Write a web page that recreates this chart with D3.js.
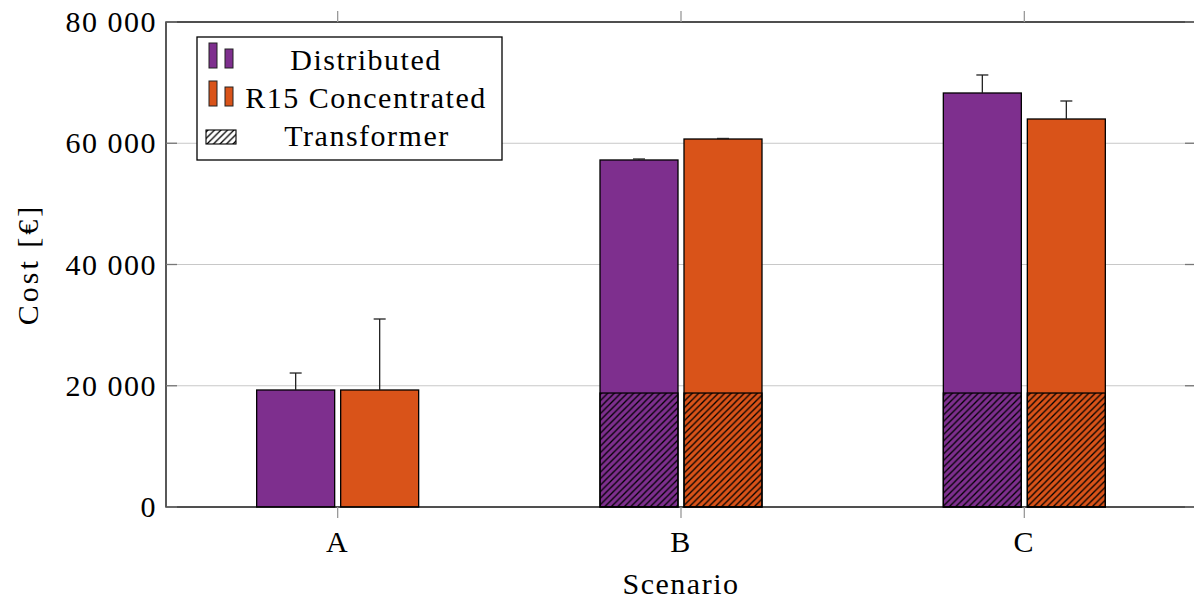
<!DOCTYPE html>
<html>
<head>
<meta charset="utf-8">
<script src="https://cdn.jsdelivr.net/npm/d3@7/dist/d3.min.js"></script>
<style>
  html, body { margin: 0; padding: 0; background: #fff; }
  svg { display: block; }
  text { font-family: "Liberation Serif", "DejaVu Serif", serif; fill: #000; letter-spacing: 1.5px; }
</style>
</head>
<body>
<svg id="chart" width="1194" height="601"></svg>
<script>
// dados (custo em euros)
const scenarios = ["A", "B", "C"];
const distributed = [19300, 57240, 68290];
const distributedHigh = [22100, 57400, 71260];
const concentrated = [19300, 60700, 64000];
const concentratedHigh = [31010, 60790, 66970];
const transformer = [0, 18800, 18800];
const yTicks = [0, 20000, 40000, 60000, 80000];

const series = [
  { name: "Distributed", color: "#7E2F8E", values: distributed, high: distributedHigh, offset: -1 },
  { name: "R15 Concentrated", color: "#D95319", values: concentrated, high: concentratedHigh, offset: 1 },
];

const plot = { left: 166, right: 1196, top: 22, bottom: 507 };
const BAR_W = 78, BAR_GAP = 3;

const svg = d3.select("#chart");

// padrão "north east lines" do pgfplots
const defs = svg.append("defs");
const pat = defs.append("pattern")
  .attr("id", "hatch")
  .attr("patternUnits", "userSpaceOnUse")
  .attr("width", 6.5)
  .attr("height", 6.5);
pat.append("path")
  .attr("d", "M-1,1 L1,-1 M0,6.5 L6.5,0 M5.5,7.5 L7.5,5.5")
  .attr("stroke", "#000")
  .attr("stroke-width", 1.3);

const x = d3.scaleLinear().domain([-0.5, 2.5]).range([plot.left, plot.right]);
const y = d3.scaleLinear().domain([0, 80000]).range([plot.bottom, plot.top]);

const fmt = d3.formatLocale({ decimal: ".", thousands: " ", grouping: [3], currency: ["", ""] }).format(",d");

// grade horizontal
svg.append("g")
  .selectAll("line")
  .data(yTicks)
  .join("line")
  .attr("x1", plot.left)
  .attr("x2", plot.right)
  .attr("y1", (d) => y(d))
  .attr("y2", (d) => y(d))
  .attr("stroke", "#c8c8c8")
  .attr("stroke-width", 1);

// barras
const barX = (s, i) => x(i) + (s.offset < 0 ? -BAR_GAP - BAR_W : BAR_GAP);

series.forEach((s) => {
  const g = svg.append("g");
  g.selectAll("rect.bar")
    .data(s.values)
    .join("rect")
    .attr("class", "bar")
    .attr("x", (d, i) => barX(s, i))
    .attr("y", (d) => y(d))
    .attr("width", BAR_W)
    .attr("height", (d) => y(0) - y(d))
    .attr("fill", s.color)
    .attr("stroke", "#000")
    .attr("stroke-width", 1.3);

  // parte do transformador, hachurada por cima
  g.selectAll("rect.trafo")
    .data(transformer)
    .join("rect")
    .attr("class", "trafo")
    .attr("display", (d) => (d > 0 ? null : "none"))
    .attr("x", (d, i) => barX(s, i))
    .attr("y", (d) => y(d))
    .attr("width", BAR_W)
    .attr("height", (d) => y(0) - y(d))
    .attr("fill", "url(#hatch)")
    .attr("stroke", "#000")
    .attr("stroke-width", 1.3);

  // barras de erro (só para cima)
  const eg = g.selectAll("g.err")
    .data(s.values.map((v, i) => ({ v, hi: s.high[i], i })))
    .join("g")
    .attr("class", "err");
  const cx = (d) => barX(s, d.i) + BAR_W / 2;
  eg.append("line")
    .attr("x1", cx).attr("x2", cx)
    .attr("y1", (d) => y(d.v)).attr("y2", (d) => y(d.hi))
    .attr("stroke", "#222").attr("stroke-width", 1.3);
  eg.append("line")
    .attr("x1", (d) => cx(d) - 6).attr("x2", (d) => cx(d) + 6)
    .attr("y1", (d) => y(d.hi)).attr("y2", (d) => y(d.hi))
    .attr("stroke", "#222").attr("stroke-width", 1.3);
});

// moldura
svg.append("rect")
  .attr("x", plot.left)
  .attr("y", plot.top)
  .attr("width", plot.right - plot.left)
  .attr("height", plot.bottom - plot.top)
  .attr("fill", "none")
  .attr("stroke", "#000")
  .attr("stroke-width", 1.3);

// ticks x (para fora, em cima e em baixo)
const xt = svg.append("g");
scenarios.forEach((c, i) => {
  xt.append("line").attr("x1", x(i)).attr("x2", x(i)).attr("y1", plot.bottom).attr("y2", plot.bottom + 11)
    .attr("stroke", "#999").attr("stroke-width", 1.3);
  xt.append("line").attr("x1", x(i)).attr("x2", x(i)).attr("y1", plot.top).attr("y2", plot.top - 11)
    .attr("stroke", "#999").attr("stroke-width", 1.3);
  xt.append("text")
    .attr("x", x(i))
    .attr("y", 552)
    .attr("text-anchor", "middle")
    .attr("font-size", 30)
    .text(c);
});

// ticks y (para dentro, dos dois lados)
const yt = svg.append("g");
yTicks.forEach((t) => {
  yt.append("line").attr("x1", plot.left).attr("x2", plot.left + 11).attr("y1", y(t)).attr("y2", y(t))
    .attr("stroke", "#777").attr("stroke-width", 1.3);
  yt.append("line").attr("x1", plot.right - 11).attr("x2", plot.right).attr("y1", y(t)).attr("y2", y(t))
    .attr("stroke", "#777").attr("stroke-width", 1.3);
  yt.append("text")
    .attr("x", 157)
    .attr("y", y(t) + 10)
    .attr("text-anchor", "end")
    .attr("font-size", 30)
    .text(fmt(t));
});

// títulos dos eixos
svg.append("text")
  .attr("x", x(1))
  .attr("y", 594)
  .attr("text-anchor", "middle")
  .attr("font-size", 30)
  .text("Scenario");

svg.append("text")
  .attr("transform", `translate(38,${(plot.top + plot.bottom) / 2}) rotate(-90)`)
  .attr("text-anchor", "middle")
  .attr("font-size", 30)
  .style("letter-spacing", "3px")
  .text("Cost [€]");

// legenda
const leg = svg.append("g");
leg.append("rect")
  .attr("x", 197).attr("y", 37).attr("width", 305).attr("height", 123)
  .attr("fill", "#fff").attr("stroke", "#000").attr("stroke-width", 1.3);

series.forEach((s, k) => {
  const base = 68 + k * 38;
  leg.append("rect").attr("x", 209).attr("y", base - 25).attr("width", 8).attr("height", 25)
    .attr("fill", s.color).attr("stroke", "#222").attr("stroke-width", 1);
  leg.append("rect").attr("x", 225).attr("y", base - 19).attr("width", 8).attr("height", 19)
    .attr("fill", s.color).attr("stroke", "#222").attr("stroke-width", 1);
  leg.append("text")
    .attr("x", 366).attr("y", base + 2)
    .attr("text-anchor", "middle")
    .attr("font-size", 30)
    .text(s.name);
});

leg.append("rect").attr("x", 206).attr("y", 130).attr("width", 30).attr("height", 14)
  .attr("fill", "url(#hatch)").attr("stroke", "#000").attr("stroke-width", 1.1);
leg.append("text")
  .attr("x", 367).attr("y", 146)
  .attr("text-anchor", "middle")
  .attr("font-size", 30)
  .text("Transformer");
</script>
</body>
</html>
